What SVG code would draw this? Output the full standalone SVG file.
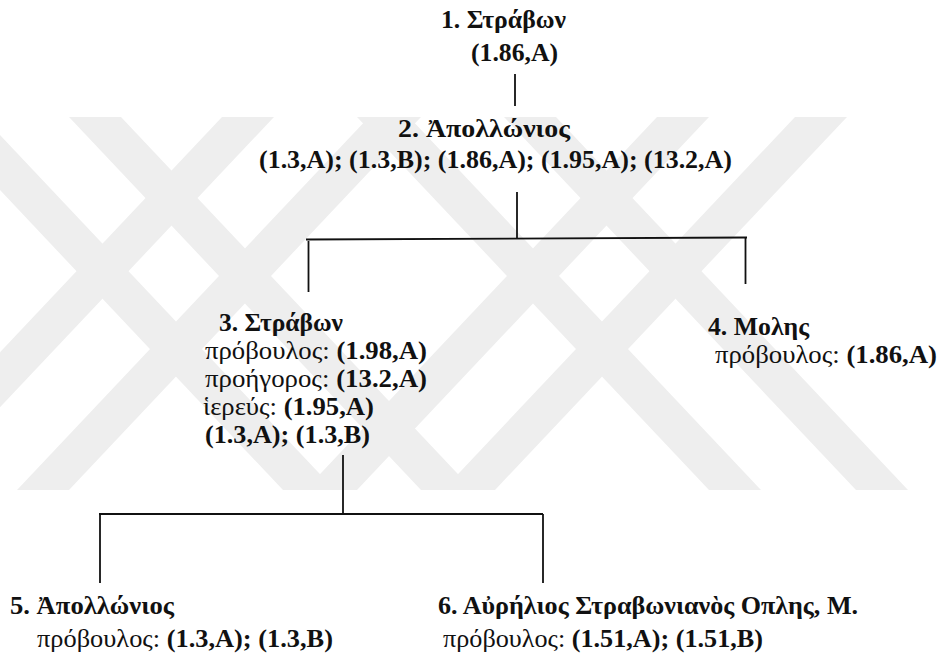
<svg xmlns="http://www.w3.org/2000/svg" width="942" height="664" viewBox="0 0 942 664">
  <style>
    text { font-family: "Liberation Serif", "DejaVu Serif", serif; font-size: 25px; fill: #111; }
    .b { font-weight: bold; }
    .wire { stroke: #111; stroke-width: 1.8; fill: none; }
    .wm { fill: #eeeeee; }
  </style>
  <rect width="942" height="664" fill="#ffffff"/>

  <!-- background emblem: two crossed double bands -->
  <g id="emblem">
    <!-- right cross -->
    <polygon class="wm" points="357,117 409,117 761,490 709,490"/>
    <polygon class="wm" points="504,117 556,117 908,490 856,490"/>
    <polygon class="wm" points="657,117 709,117 357,490 305,490"/>
    <polygon class="wm" points="795,117 847,117 495,490 443,490"/>
    <!-- left cross -->
    <polygon class="wm" points="369,117 421,117 69,490 17,490"/>
    <polygon class="wm" points="222,117 274,117 -78,490 -130,490"/>
    <polygon class="wm" points="69,117 121,117 473,490 421,490"/>
    <polygon class="wm" points="-69,117 -17,117 335,490 283,490"/>
  </g>

  <!-- connectors -->
  <g id="connectors">
    <line class="wire" x1="515" y1="74" x2="515" y2="106"/>
    <line class="wire" x1="517" y1="192" x2="517" y2="239"/>
    <line class="wire" x1="306" y1="239.5" x2="747" y2="237.5"/>
    <line class="wire" x1="308.5" y1="241" x2="308.5" y2="292"/>
    <line class="wire" x1="745.5" y1="237" x2="745.5" y2="284"/>
    <line class="wire" x1="343" y1="455" x2="343" y2="514"/>
    <line class="wire" x1="99" y1="514" x2="543" y2="514"/>
    <line class="wire" x1="100" y1="514" x2="100" y2="583"/>
    <line class="wire" x1="543" y1="514" x2="543" y2="583"/>
  </g>

  <g id="node1" font-family="Liberation Serif, serif">
    <text class="b" x="441" y="28" textLength="125" lengthAdjust="spacingAndGlyphs">1. Στράβων</text>
    <text class="b" x="471" y="61" textLength="87" lengthAdjust="spacingAndGlyphs">(1.86,A)</text>
  </g>

  <g id="node2" font-family="Liberation Serif, serif">
    <text class="b" x="398" y="137" textLength="172" lengthAdjust="spacingAndGlyphs">2. Ἀπολλώνιος</text>
    <text class="b" x="259" y="168" textLength="473" lengthAdjust="spacingAndGlyphs">(1.3,A); (1.3,B); (1.86,A); (1.95,A); (13.2,A)</text>
  </g>

  <g id="node3" font-family="Liberation Serif, serif">
    <text class="b" x="219" y="331" textLength="124" lengthAdjust="spacingAndGlyphs">3. Στράβων</text>
    <text x="205" y="359" textLength="222" lengthAdjust="spacingAndGlyphs">πρόβουλος: <tspan class="b">(1.98,A)</tspan></text>
    <text x="205" y="387" textLength="222" lengthAdjust="spacingAndGlyphs">προήγορος: <tspan class="b">(13.2,A)</tspan></text>
    <text x="203" y="415" textLength="171" lengthAdjust="spacingAndGlyphs">ἱερεύς: <tspan class="b">(1.95,A)</tspan></text>
    <text class="b" x="205" y="443" textLength="165" lengthAdjust="spacingAndGlyphs">(1.3,A); (1.3,B)</text>
  </g>

  <g id="node4" font-family="Liberation Serif, serif">
    <text class="b" x="708" y="335" textLength="101" lengthAdjust="spacingAndGlyphs">4. Μολης</text>
    <text x="715" y="363" textLength="222" lengthAdjust="spacingAndGlyphs">πρόβουλος: <tspan class="b">(1.86,A)</tspan></text>
  </g>

  <g id="node5" font-family="Liberation Serif, serif">
    <text class="b" x="10" y="614" textLength="164" lengthAdjust="spacingAndGlyphs">5. Ἀπολλώνιος</text>
    <text x="37" y="647" textLength="296" lengthAdjust="spacingAndGlyphs">πρόβουλος: <tspan class="b">(1.3,A); (1.3,B)</tspan></text>
  </g>

  <g id="node6" font-family="Liberation Serif, serif">
    <text class="b" x="438" y="614" textLength="420" lengthAdjust="spacingAndGlyphs">6. Αὐρήλιος Στραβωνιανὸς Οπλης, Μ.</text>
    <text x="443" y="647" textLength="320" lengthAdjust="spacingAndGlyphs">πρόβουλος: <tspan class="b">(1.51,A); (1.51,B)</tspan></text>
  </g>
</svg>
